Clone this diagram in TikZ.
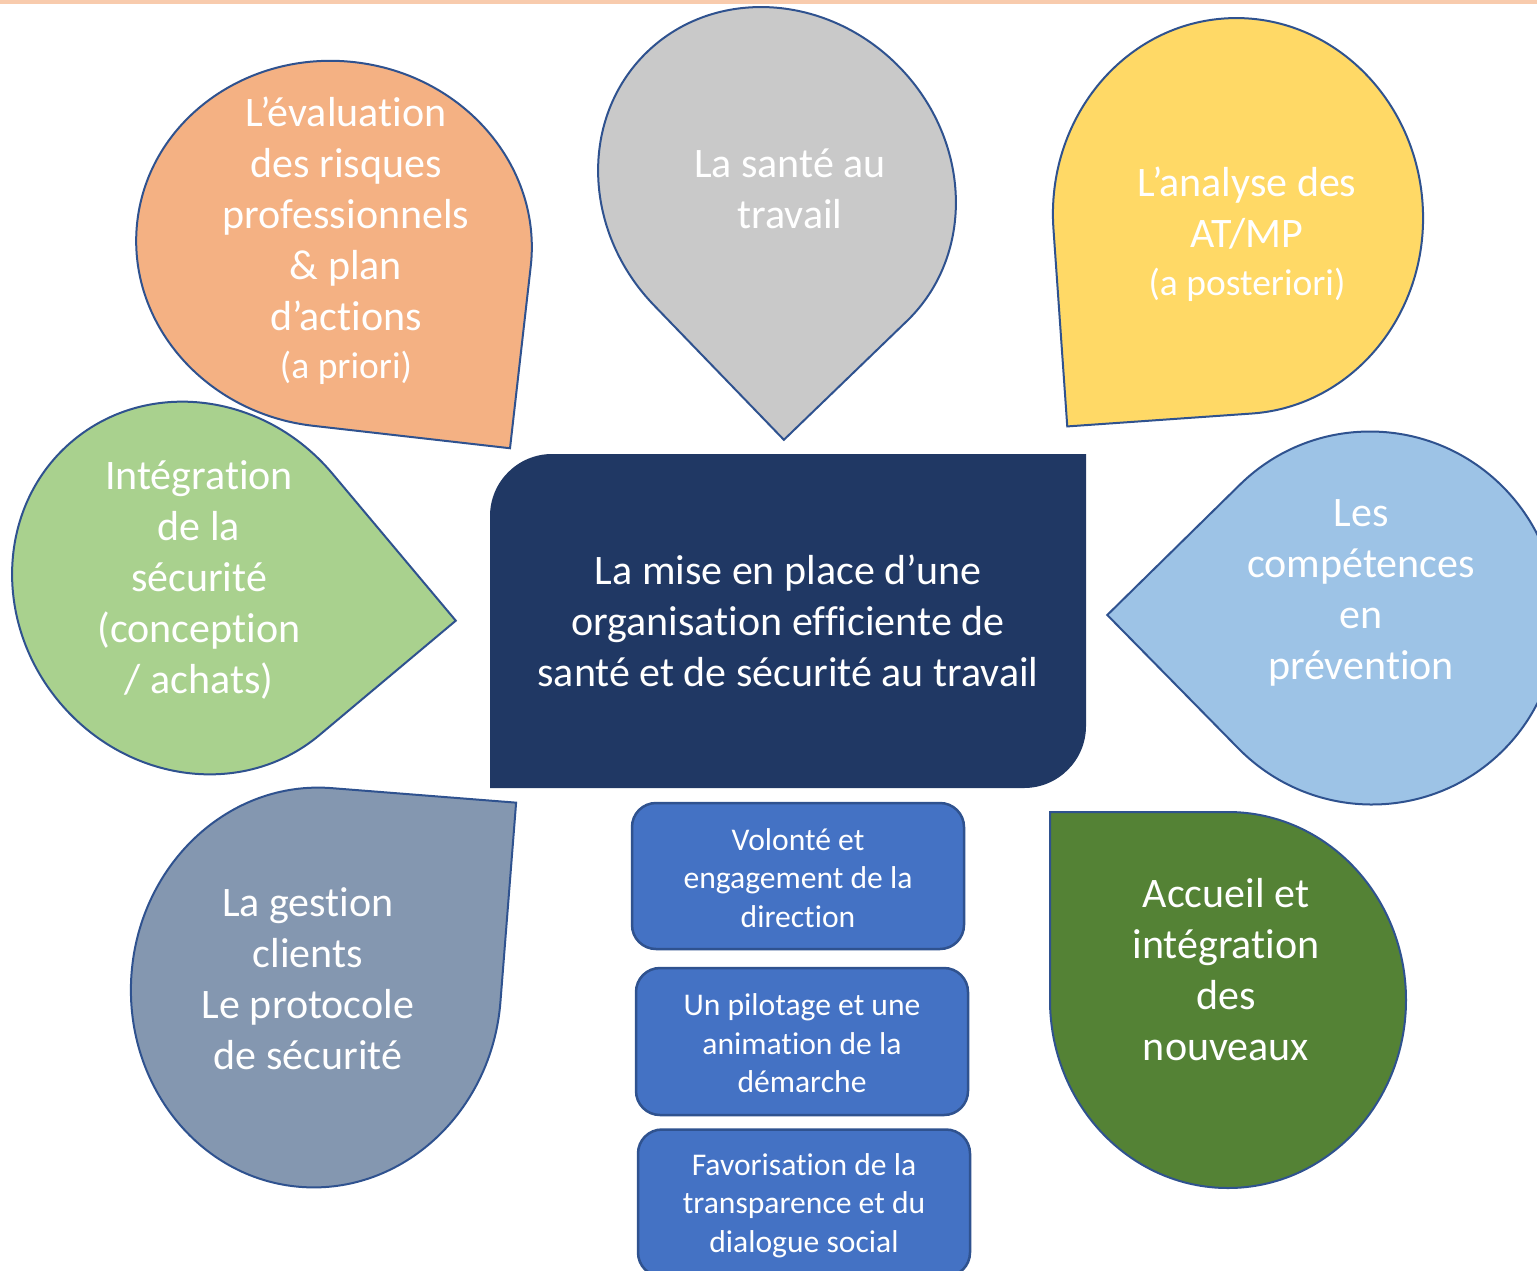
\documentclass[tikz,border=0pt]{standalone}
\usepackage{fontspec}
\setmainfont[Ligatures=NoCommon]{Carlito}
\definecolor{bordc}{HTML}{2F528F}
\definecolor{corange}{HTML}{F4B183}
\definecolor{cgray}{HTML}{C9C9C9}
\definecolor{cyellow}{HTML}{FFD966}
\definecolor{cgreen}{HTML}{A9D18E}
\definecolor{cblue}{HTML}{9DC3E6}
\definecolor{cslate}{HTML}{8497B0}
\definecolor{cdgreen}{HTML}{548235}
\definecolor{cnavy}{HTML}{203864}
\definecolor{boxblue}{HTML}{4472C4}
\definecolor{ctop}{HTML}{F8CBAD}
\newcommand{\drawpetal}[6]{%
  \begin{scope}[shift={(#2,#3)}, rotate=#4]
    \draw[petal, fill=#1] (#5pt,#6pt) -- (0pt,#6pt) arc[start angle=90, end angle=360, x radius=#5pt, y radius=#6pt] -- cycle;
  \end{scope}}
\begin{document}
\begin{tikzpicture}[x=1pt,y=-1pt,
  petal/.style={draw=bordc, line width=2pt, line join=miter},
  bigtxt/.style={text=white, align=center, inner sep=0pt, font=\fontsize{42}{51}\selectfont},
  smalltxt/.style={text=white, align=center, inner sep=0pt, font=\fontsize{31.6}{38.5}\selectfont},
  sbox/.style={draw=bordc, fill=boxblue, line width=2.5pt, rounded corners=24pt, minimum width=332pt, inner sep=0pt}]
\useasboundingbox (0,0) rectangle (1537,1270);
\clip (0,0) rectangle (1537,1270);
\fill[white] (0,0) rectangle (1537,1270);
\fill[ctop] (0,0) rectangle (1537,3.5);
% petals
\drawpetal{corange}{334}{244}{-96.5}{183}{198}
\drawpetal{cgray}{777}{186.5}{-136}{171}{187}
\drawpetal{cyellow}{1238}{216}{-176}{185}{198}
\drawpetal{cgreen}{196}{588}{-50}{192}{178}
\drawpetal{cblue}{1371}{618}{134.5}{187}{186}
\drawpetal{cslate}{316}{987.5}{-4.5}{185}{200}
\drawpetal{cdgreen}{1228}{1000}{90}{188}{178}
% petal texts
\node[bigtxt] (t1) at (346,240.5) {L’évaluation\\des risques\\professionnels\\\& plan\\d’actions\\[-3pt]{\fontsize{37.5}{45}\selectfont (a priori)}};
\node[bigtxt] (t2) at (790,189) {La santé au\\travail};
\node[bigtxt] (t3) at (1247,234) {L’analyse des\\AT/MP\\[-3pt]{\fontsize{37.5}{45}\selectfont (a posteriori)}};
\node[bigtxt] (t4) at (199,579.5) {Intégration\\de la\\sécurité\\(conception\\/ achats)};
\node[bigtxt] (t5) at (1361,592.5) {Les\\compétences\\en\\prévention};
\node[bigtxt] (t6) at (308,979) {La gestion\\clients\\Le protocole\\de sécurité};
\node[bigtxt] (t7) at (1226,970) {Accueil et\\intégration\\des\\nouveaux};
% central box
\fill[cnavy] (490,788) -- (490,516) .. controls (490,481.8) and (517.8,454) .. (552,454) -- (1086,454) -- (1086,726) .. controls (1086,760.2) and (1058.2,788) .. (1024,788) -- cycle;
\node[bigtxt] (center) at (788,621) {La mise en place d’une\\organisation efficiente de\\santé et de sécurité au travail};
% small boxes
\node[sbox, minimum height=146pt] (b1) at (798,876) {};
\node[smalltxt] (b1t) at ([yshift=-2pt]b1.center) {Volonté et\\engagement de la\\direction};
\node[sbox, minimum height=147pt] (b2) at (802,1041.5) {};
\node[smalltxt] (b2t) at ([yshift=-2pt]b2.center) {Un pilotage et une\\animation de la\\démarche};
\node[sbox, minimum height=147pt] (b3) at (804,1203) {};
\node[smalltxt] (b3t) at ([yshift=-2.5pt]b3.center) {Favorisation de la\\transparence et du\\dialogue social};
\end{tikzpicture}
\end{document}
